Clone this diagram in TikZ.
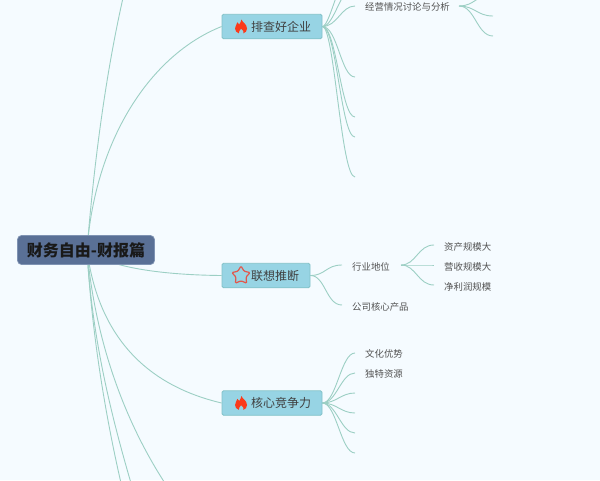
\documentclass[tikz,border=0pt]{standalone}
\usepackage{fontspec}
\setmainfont{Noto Sans CJK SC}
\usetikzlibrary{shapes.geometric,calc}
\pgfdeclarelayer{page}
\pgfdeclarelayer{links}
\pgfsetlayers{page,links,main}
\definecolor{pagebg}{HTML}{F5FBFF}
\definecolor{rootfill}{HTML}{5A7096}
\definecolor{rootedge}{HTML}{7F93B3}
\definecolor{boxfill}{HTML}{97D4E4}
\definecolor{boxedge}{HTML}{82C2C8}
\definecolor{linkcol}{HTML}{9CCFC4}
\definecolor{flamecol}{HTML}{FB3A1A}
\definecolor{starcol}{HTML}{E2574C}
\tikzset{
  x=1pt,y=-1pt,
  link/.style={draw=linkcol,line width=0.9pt},
  rootbox/.style={draw=rootedge,fill=rootfill,rounded corners=4pt,line width=0.7pt,minimum width=137pt,minimum height=29pt,inner sep=0pt,text=black!90,font=\fontsize{16}{18}\selectfont\bfseries},
  branchbox/.style={draw=boxedge,fill=boxfill,rounded corners=1.5pt,line width=0.8pt,minimum height=24.5pt,inner sep=0pt,text=black!75,font=\fontsize{12}{14}\selectfont},
  leaf/.style={anchor=west,inner sep=0pt,text=black!68,font=\fontsize{9.4}{11}\selectfont},
  staricon/.style={star,star points=5,star point ratio=1.8,minimum size=19pt,inner sep=0pt,draw=starcol,line width=1.2pt,rounded corners=1pt,fill=none},
  flameicon/.pic={\fill[flamecol] (0.5,-7) .. controls (1,-4.5) and (6,-2.5) .. (6,2) .. controls (6,4.5) and (4.5,6.2) .. (2.5,6.8) .. controls (3,5) and (2,3.2) .. (0,2.2) .. controls (-1,4) and (-2.6,5) .. (-2.2,6.8) .. controls (-4.5,6.2) and (-6,4.3) .. (-6,2) .. controls (-6,-1) and (-3.8,-2) .. (-3.6,-4.2) .. controls (-2.6,-3.5) and (-2,-3) .. (-1.8,-2) .. controls (-0.8,-3.5) and (0,-5) .. (0.5,-7) -- cycle;}
}
\newcommand{\iconpad}{\hspace*{18pt}}
\begin{document}
\begin{tikzpicture}
\begin{pgfonlayer}{page}
\fill[pagebg] (0,0) rectangle (600,480);
\end{pgfonlayer}
\useasboundingbox (0,0) rectangle (600,480);
\clip (0,0) rectangle (600,480);

\coordinate (rootc) at (87,250);
\coordinate (topout) at (135,-50);
\coordinate (lowa) at (125,500);
\coordinate (lowb) at (136,500);
\coordinate (lowc) at (180,505);

\coordinate (ao) at (355,-34);
\coordinate (ap) at (355,-14);
\coordinate (aq) at (355,6);
\coordinate (ar) at (355,77);
\coordinate (as) at (355,117);
\coordinate (at1) at (355,137);
\coordinate (au) at (355,177);
\coordinate (ea) at (459,6);
\coordinate (eb) at (493,-6);
\coordinate (ec) at (493,16);
\coordinate (ed) at (493,36);

\coordinate (bp) at (342,265);
\coordinate (bq) at (342,305);
\coordinate (ba) at (401,265);
\coordinate (bb) at (434,245);
\coordinate (bc) at (434,265);
\coordinate (bd) at (434,285);

\coordinate (ca) at (355,353);
\coordinate (cb) at (355,373);
\coordinate (cc) at (355,393);
\coordinate (cd) at (355,413);
\coordinate (ce) at (355,433);
\coordinate (cf) at (355,453);

\node[rootbox] (root) at (86,250) {财务自由-财报篇};
\node[branchbox,minimum width=100pt] (pai) at (272,26.5) {\iconpad 排查好企业};
\node[branchbox,minimum width=88pt] (lian) at (266,275.5) {\iconpad 联想推断};
\node[branchbox,minimum width=100pt] (he) at (272,403) {\iconpad 核心竞争力};

\begin{pgfonlayer}{links}
% trunk connectors
\path[link] (rootc) .. controls (95,150) and (110,40) .. (topout);
\path[link] (rootc) .. controls (95,140) and (150,55) .. (pai.west);
\path[link] (rootc) .. controls (108,268) and (165,275) .. (lian.west);
\path[link] (rootc) .. controls (98,335) and (145,385) .. (he.west);
\path[link] (rootc) .. controls (92,340) and (108,430) .. (lowa);
\path[link] (rootc) .. controls (92,340) and (112,420) .. (lowb);
\path[link] (rootc) .. controls (95,340) and (125,430) .. (lowc);
% first branch
\foreach \e/\c in {ao/8,ap/12,aq/15,ar/15,as/14,at1/14,au/12}
  \path[link] (pai.east) .. controls +(\c,0) and ($(\e)+(-14,0)$) .. (\e);
\foreach \e in {eb,ec,ed}
  \path[link] (ea) .. controls +(16,0) and ($(\e)+(-16,0)$) .. (\e);
% second branch
\foreach \e in {bp,bq}
  \path[link] (lian.east) .. controls +(15,0) and ($(\e)+(-16,0)$) .. (\e);
\foreach \e in {bb,bc,bd}
  \path[link] (ba) .. controls +(15,0) and ($(\e)+(-16,0)$) .. (\e);
% third branch
\foreach \e in {ca,cb,cc,cd,ce,cf}
  \path[link] (he.east) .. controls +(14,0) and ($(\e)+(-14,0)$) .. (\e);
\end{pgfonlayer}

\pic at (241,26.5) {flameicon};
\pic at (241,403) {flameicon};
\node[staricon] (staric) at (241,275.5) {};

\node[leaf] (jy) at (365,7) {经营情况讨论与分析};
\node[leaf] (hy) at (352,266.5) {行业地位};
\node[leaf] (gs) at (352,306.5) {公司核心产品};
\node[leaf] (zc) at (444,246.5) {资产规模大};
\node[leaf] (ys) at (444,266.5) {营收规模大};
\node[leaf] (jl) at (444,286.5) {净利润规模};
\node[leaf] (wh) at (365,353.5) {文化优势};
\node[leaf] (dt) at (365,373.5) {独特资源};
\end{tikzpicture}
\end{document}
